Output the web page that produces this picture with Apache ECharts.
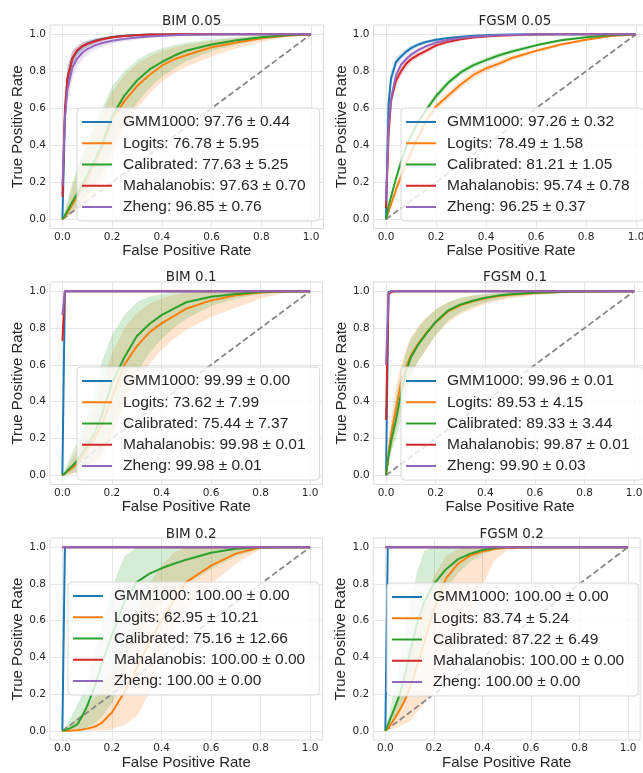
<!DOCTYPE html>
<html>
<head>
<meta charset="utf-8">
<script src="https://cdn.jsdelivr.net/npm/echarts@6/dist/echarts.min.js"></script>
<style>
html, body { margin: 0; padding: 0; background: #fff; }
#main { width: 643px; height: 773px; }
</style>
</head>
<body>
<div id="main"></div>
<script>
// common fpr grid for the averaged curves
var fpr = [0, 0.01, 0.02, 0.04, 0.06, 0.08, 0.1, 0.13, 0.16, 0.2, 0.25, 0.3, 0.35, 0.4, 0.45, 0.5, 0.6, 0.7, 0.8, 0.9, 1];
var ticks = [0, 0.2, 0.4, 0.6, 0.8, 1.0];
var methods = ['GMM1000', 'Logits', 'Calibrated', 'Mahalanobis', 'Zheng'];
var diagonalX = [0, 1];
var diagonalY = [0, 1];

// BIM 0.05
var bim005Scores = ['97.76 ± 0.44', '76.78 ± 5.95', '77.63 ± 5.25', '97.63 ± 0.70', '96.85 ± 0.76'];
var bim005Gmm = [0, 0.55, 0.76, 0.87, 0.91, 0.935, 0.95, 0.965, 0.975, 0.985, 0.992, 0.996, 0.998, 0.999, 1, 1, 1, 1, 1, 1, 1];
var bim005GmmLo = [0, 0.45, 0.68, 0.82, 0.88, 0.91, 0.93, 0.95, 0.963, 0.976, 0.986, 0.992, 0.996, 0.998, 0.999, 1, 1, 1, 1, 1, 1];
var bim005GmmHi = [0, 0.65, 0.83, 0.91, 0.935, 0.955, 0.967, 0.978, 0.985, 0.992, 0.996, 0.999, 1, 1, 1, 1, 1, 1, 1, 1, 1];
var bim005Log = [0, 0.015, 0.035, 0.08, 0.125, 0.17, 0.22, 0.3, 0.39, 0.54, 0.64, 0.72, 0.78, 0.83, 0.865, 0.888, 0.93, 0.955, 0.978, 0.992, 1];
var bim005LogLo = [0, 0.003, 0.01, 0.03, 0.05, 0.07, 0.09, 0.13, 0.2, 0.33, 0.48, 0.6, 0.68, 0.745, 0.79, 0.825, 0.88, 0.925, 0.958, 0.985, 1];
var bim005LogHi = [0, 0.04, 0.08, 0.17, 0.25, 0.32, 0.39, 0.49, 0.57, 0.69, 0.78, 0.84, 0.88, 0.91, 0.93, 0.945, 0.965, 0.98, 0.99, 0.997, 1];
var bim005Cal = [0, 0.02, 0.045, 0.095, 0.14, 0.19, 0.24, 0.32, 0.41, 0.56, 0.67, 0.75, 0.81, 0.85, 0.885, 0.912, 0.945, 0.968, 0.984, 0.994, 1];
var bim005CalLo = [0, 0.005, 0.015, 0.04, 0.07, 0.1, 0.13, 0.18, 0.25, 0.38, 0.52, 0.63, 0.71, 0.77, 0.815, 0.855, 0.91, 0.945, 0.972, 0.99, 1];
var bim005CalHi = [0, 0.05, 0.1, 0.2, 0.28, 0.35, 0.42, 0.52, 0.6, 0.72, 0.8, 0.86, 0.9, 0.925, 0.942, 0.955, 0.972, 0.985, 0.993, 0.998, 1];
var bim005Mah = [0.12, 0.6, 0.76, 0.87, 0.915, 0.935, 0.948, 0.962, 0.973, 0.984, 0.991, 0.995, 0.998, 0.999, 1, 1, 1, 1, 1, 1, 1];
var bim005MahLo = [0.08, 0.5, 0.7, 0.83, 0.89, 0.915, 0.932, 0.95, 0.963, 0.976, 0.986, 0.992, 0.996, 0.998, 0.999, 1, 1, 1, 1, 1, 1];
var bim005MahHi = [0.16, 0.68, 0.82, 0.91, 0.94, 0.955, 0.964, 0.974, 0.982, 0.99, 0.995, 0.998, 0.999, 1, 1, 1, 1, 1, 1, 1, 1];
var bim005Zhe = [0.18, 0.55, 0.7, 0.82, 0.87, 0.9, 0.92, 0.94, 0.953, 0.965, 0.975, 0.982, 0.988, 0.992, 0.995, 0.997, 0.999, 1, 1, 1, 1];
var bim005ZheLo = [0.14, 0.45, 0.62, 0.76, 0.83, 0.865, 0.89, 0.915, 0.932, 0.948, 0.962, 0.972, 0.98, 0.986, 0.99, 0.993, 0.997, 0.999, 1, 1, 1];
var bim005ZheHi = [0.22, 0.64, 0.78, 0.87, 0.905, 0.93, 0.945, 0.96, 0.97, 0.98, 0.987, 0.991, 0.995, 0.997, 0.999, 1, 1, 1, 1, 1, 1];

// FGSM 0.05
var fgsm005Scores = ['97.26 ± 0.32', '78.49 ± 1.58', '81.21 ± 1.05', '95.74 ± 0.78', '96.25 ± 0.37'];
var fgsm005Gmm = [0, 0.62, 0.76, 0.85, 0.88, 0.905, 0.925, 0.945, 0.958, 0.97, 0.98, 0.987, 0.992, 0.995, 0.997, 0.998, 1, 1, 1, 1, 1];
var fgsm005GmmLo = [0, 0.56, 0.72, 0.825, 0.86, 0.888, 0.91, 0.933, 0.948, 0.962, 0.974, 0.983, 0.989, 0.993, 0.996, 0.997, 0.999, 1, 1, 1, 1];
var fgsm005GmmHi = [0, 0.68, 0.8, 0.875, 0.9, 0.922, 0.94, 0.957, 0.968, 0.978, 0.986, 0.991, 0.995, 0.997, 0.998, 0.999, 1, 1, 1, 1, 1];
var fgsm005Log = [0, 0.04, 0.08, 0.16, 0.23, 0.3, 0.36, 0.45, 0.53, 0.61, 0.67, 0.73, 0.78, 0.815, 0.84, 0.87, 0.91, 0.945, 0.97, 0.99, 1];
var fgsm005LogLo = [0, 0.03, 0.065, 0.14, 0.21, 0.28, 0.34, 0.43, 0.51, 0.59, 0.65, 0.71, 0.76, 0.797, 0.824, 0.855, 0.898, 0.936, 0.964, 0.987, 1];
var fgsm005LogHi = [0, 0.05, 0.095, 0.18, 0.25, 0.32, 0.38, 0.47, 0.55, 0.63, 0.69, 0.75, 0.8, 0.833, 0.856, 0.885, 0.922, 0.954, 0.976, 0.993, 1];
var fgsm005Cal = [0, 0.07, 0.12, 0.22, 0.31, 0.39, 0.45, 0.53, 0.59, 0.665, 0.74, 0.795, 0.833, 0.86, 0.885, 0.905, 0.94, 0.967, 0.984, 0.994, 1];
var fgsm005CalLo = [0, 0.06, 0.105, 0.2, 0.29, 0.37, 0.43, 0.51, 0.57, 0.645, 0.722, 0.778, 0.818, 0.846, 0.872, 0.893, 0.931, 0.96, 0.979, 0.991, 1];
var fgsm005CalHi = [0, 0.08, 0.135, 0.24, 0.33, 0.41, 0.47, 0.55, 0.61, 0.685, 0.758, 0.812, 0.848, 0.874, 0.898, 0.917, 0.949, 0.974, 0.989, 0.997, 1];
var fgsm005Mah = [0.06, 0.45, 0.64, 0.75, 0.8, 0.84, 0.865, 0.89, 0.91, 0.94, 0.96, 0.973, 0.982, 0.988, 0.992, 0.995, 0.998, 1, 1, 1, 1];
var fgsm005MahLo = [0.04, 0.4, 0.6, 0.72, 0.775, 0.818, 0.846, 0.874, 0.896, 0.928, 0.951, 0.966, 0.977, 0.984, 0.989, 0.993, 0.997, 0.999, 1, 1, 1];
var fgsm005MahHi = [0.08, 0.5, 0.68, 0.78, 0.825, 0.862, 0.884, 0.906, 0.924, 0.952, 0.969, 0.98, 0.987, 0.992, 0.995, 0.997, 0.999, 1, 1, 1, 1];
var fgsm005Zhe = [0.1, 0.5, 0.65, 0.78, 0.835, 0.865, 0.89, 0.915, 0.935, 0.955, 0.97, 0.98, 0.986, 0.99, 0.994, 0.996, 0.999, 1, 1, 1, 1];
var fgsm005ZheLo = [0.08, 0.47, 0.63, 0.765, 0.822, 0.853, 0.879, 0.905, 0.926, 0.947, 0.964, 0.975, 0.982, 0.987, 0.992, 0.995, 0.998, 1, 1, 1, 1];
var fgsm005ZheHi = [0.12, 0.53, 0.67, 0.795, 0.848, 0.877, 0.901, 0.925, 0.944, 0.963, 0.976, 0.985, 0.99, 0.993, 0.996, 0.997, 1, 1, 1, 1, 1];

// BIM 0.1
var bim01Scores = ['99.99 ± 0.00', '73.62 ± 7.99', '75.44 ± 7.37', '99.98 ± 0.01', '99.98 ± 0.01'];
var bim01StepFpr = [0, 0.0101, 1];
var bim01Gmm = [0, 1, 1];
var bim01Mah = [0.73, 1, 1];
var bim01Zhe = [0.87, 1, 1];
var bim01Log = [0, 0.008, 0.02, 0.04, 0.065, 0.1, 0.14, 0.2, 0.28, 0.42, 0.6, 0.7, 0.775, 0.825, 0.865, 0.905, 0.95, 0.978, 0.993, 0.999, 1];
var bim01LogLo = [0, 0, 0.003, 0.008, 0.015, 0.025, 0.04, 0.06, 0.1, 0.2, 0.38, 0.5, 0.6, 0.68, 0.74, 0.79, 0.86, 0.91, 0.96, 0.99, 1];
var bim01LogHi = [0, 0.02, 0.045, 0.09, 0.14, 0.2, 0.27, 0.38, 0.5, 0.66, 0.8, 0.88, 0.93, 0.96, 0.98, 0.99, 0.997, 1, 1, 1, 1];
var bim01Cal = [0, 0.01, 0.025, 0.05, 0.08, 0.12, 0.16, 0.23, 0.33, 0.5, 0.64, 0.755, 0.82, 0.87, 0.905, 0.94, 0.97, 0.985, 0.995, 0.999, 1];
var bim01CalLo = [0, 0, 0.005, 0.01, 0.02, 0.03, 0.05, 0.08, 0.12, 0.22, 0.4, 0.56, 0.66, 0.74, 0.8, 0.85, 0.92, 0.96, 0.985, 0.998, 1];
var bim01CalHi = [0, 0.03, 0.06, 0.12, 0.18, 0.25, 0.33, 0.46, 0.62, 0.76, 0.87, 0.94, 0.97, 0.985, 0.993, 0.997, 1, 1, 1, 1, 1];

// FGSM 0.1
var fgsm01Scores = ['99.96 ± 0.01', '89.53 ± 4.15', '89.33 ± 3.44', '99.87 ± 0.01', '99.90 ± 0.03'];
var fgsm01StepFpr = [0, 0.01, 0.02, 0.04, 1];
var fgsm01Gmm = [0, 0.995, 1, 1, 1];
var fgsm01Mah = [0.3, 0.98, 0.995, 1, 1];
var fgsm01Zhe = [0.6, 0.99, 1, 1, 1];
var fgsm01Log = [0, 0.12, 0.22, 0.36, 0.5, 0.585, 0.65, 0.715, 0.77, 0.83, 0.89, 0.923, 0.945, 0.962, 0.973, 0.981, 0.99, 0.995, 0.998, 1, 1];
var fgsm01LogLo = [0, 0.06, 0.13, 0.24, 0.36, 0.46, 0.54, 0.62, 0.68, 0.76, 0.83, 0.875, 0.905, 0.93, 0.948, 0.96, 0.978, 0.988, 0.995, 0.999, 1];
var fgsm01LogHi = [0, 0.18, 0.3, 0.48, 0.6, 0.68, 0.75, 0.81, 0.855, 0.9, 0.94, 0.962, 0.975, 0.984, 0.989, 0.992, 0.996, 0.998, 1, 1, 1];
var fgsm01Cal = [0, 0.1, 0.18, 0.3, 0.44, 0.56, 0.64, 0.71, 0.765, 0.833, 0.895, 0.928, 0.948, 0.965, 0.976, 0.983, 0.991, 0.996, 0.998, 1, 1];
var fgsm01CalLo = [0, 0.06, 0.12, 0.2, 0.3, 0.44, 0.54, 0.62, 0.68, 0.76, 0.84, 0.885, 0.915, 0.94, 0.955, 0.968, 0.982, 0.99, 0.996, 0.999, 1];
var fgsm01CalHi = [0, 0.14, 0.25, 0.42, 0.56, 0.67, 0.74, 0.8, 0.85, 0.9, 0.94, 0.965, 0.978, 0.986, 0.99, 0.993, 0.997, 0.999, 1, 1, 1];

// BIM 0.2
var bim02Scores = ['100.00 ± 0.00', '62.95 ± 10.21', '75.16 ± 12.66', '100.00 ± 0.00', '100.00 ± 0.00'];
var bim02StepFpr = [0, 0.0101, 1];
var bim02Gmm = [0, 1, 1];
var bim02Mah = [1, 1, 1];
var bim02Zhe = [1, 1, 1];
var bim02Log = [0, 0, 0, 0.002, 0.003, 0.007, 0.012, 0.022, 0.045, 0.1, 0.21, 0.34, 0.48, 0.6, 0.71, 0.81, 0.9, 0.965, 1, 1, 1];
var bim02LogLo = [0, 0, 0, 0, 0, 0, 0, 0, 0, 0.01, 0.03, 0.08, 0.2, 0.4, 0.55, 0.66, 0.8, 0.91, 0.99, 1, 1];
var bim02LogHi = [0, 0.01, 0.02, 0.04, 0.07, 0.1, 0.13, 0.18, 0.24, 0.33, 0.48, 0.66, 0.8, 0.9, 0.97, 1, 1, 1, 1, 1, 1];
var bim02Cal = [0, 0.003, 0.008, 0.02, 0.035, 0.08, 0.135, 0.24, 0.37, 0.52, 0.7, 0.81, 0.855, 0.885, 0.91, 0.932, 0.97, 0.992, 1, 1, 1];
var bim02CalLo = [0, 0, 0, 0, 0.005, 0.01, 0.02, 0.04, 0.08, 0.15, 0.3, 0.5, 0.62, 0.7, 0.76, 0.8, 0.88, 0.95, 0.99, 1, 1];
var bim02CalHi = [0, 0.02, 0.04, 0.09, 0.14, 0.2, 0.27, 0.42, 0.58, 0.78, 0.95, 1, 1, 1, 1, 1, 1, 1, 1, 1, 1];

// FGSM 0.2
var fgsm02Scores = ['100.00 ± 0.00', '83.74 ± 5.24', '87.22 ± 6.49', '100.00 ± 0.00', '100.00 ± 0.00'];
var fgsm02StepFpr = [0, 0.0101, 1];
var fgsm02Gmm = [0, 1, 1];
var fgsm02Mah = [1, 1, 1];
var fgsm02Zhe = [1, 1, 1];
var fgsm02Log = [0, 0.015, 0.03, 0.07, 0.115, 0.165, 0.23, 0.35, 0.48, 0.66, 0.83, 0.91, 0.955, 0.977, 0.99, 0.997, 1, 1, 1, 1, 1];
var fgsm02LogLo = [0, 0, 0.005, 0.015, 0.025, 0.04, 0.05, 0.1, 0.15, 0.22, 0.33, 0.47, 0.63, 0.79, 0.93, 0.98, 1, 1, 1, 1, 1];
var fgsm02LogHi = [0, 0.03, 0.06, 0.13, 0.2, 0.29, 0.4, 0.56, 0.7, 0.84, 0.95, 0.99, 1, 1, 1, 1, 1, 1, 1, 1, 1];
var fgsm02Cal = [0, 0.03, 0.065, 0.13, 0.2, 0.3, 0.42, 0.58, 0.7, 0.8, 0.88, 0.935, 0.965, 0.985, 0.995, 0.999, 1, 1, 1, 1, 1];
var fgsm02CalLo = [0, 0.01, 0.03, 0.06, 0.1, 0.16, 0.24, 0.38, 0.5, 0.64, 0.77, 0.86, 0.92, 0.96, 0.985, 0.995, 1, 1, 1, 1, 1];
var fgsm02CalHi = [0, 0.06, 0.12, 0.25, 0.38, 0.52, 0.68, 0.86, 0.98, 1, 1, 1, 1, 1, 1, 1, 1, 1, 1, 1, 1];

var colors = ['#1f77b4', '#ff7f0e', '#2ca02c', '#d62728', '#9467bd'];
var textColor = '#262626';

// one entry per subplot: curves in method order
var panels = [
    { title: 'BIM 0.05', scores: bim005Scores, curves: [
        { x: fpr, y: bim005Gmm, lo: bim005GmmLo, hi: bim005GmmHi },
        { x: fpr, y: bim005Log, lo: bim005LogLo, hi: bim005LogHi },
        { x: fpr, y: bim005Cal, lo: bim005CalLo, hi: bim005CalHi },
        { x: fpr, y: bim005Mah, lo: bim005MahLo, hi: bim005MahHi },
        { x: fpr, y: bim005Zhe, lo: bim005ZheLo, hi: bim005ZheHi }] },
    { title: 'FGSM 0.05', scores: fgsm005Scores, curves: [
        { x: fpr, y: fgsm005Gmm, lo: fgsm005GmmLo, hi: fgsm005GmmHi },
        { x: fpr, y: fgsm005Log, lo: fgsm005LogLo, hi: fgsm005LogHi },
        { x: fpr, y: fgsm005Cal, lo: fgsm005CalLo, hi: fgsm005CalHi },
        { x: fpr, y: fgsm005Mah, lo: fgsm005MahLo, hi: fgsm005MahHi },
        { x: fpr, y: fgsm005Zhe, lo: fgsm005ZheLo, hi: fgsm005ZheHi }] },
    { title: 'BIM 0.1', scores: bim01Scores, curves: [
        { x: bim01StepFpr, y: bim01Gmm },
        { x: fpr, y: bim01Log, lo: bim01LogLo, hi: bim01LogHi },
        { x: fpr, y: bim01Cal, lo: bim01CalLo, hi: bim01CalHi },
        { x: bim01StepFpr, y: bim01Mah },
        { x: bim01StepFpr, y: bim01Zhe }] },
    { title: 'FGSM 0.1', scores: fgsm01Scores, curves: [
        { x: fgsm01StepFpr, y: fgsm01Gmm },
        { x: fpr, y: fgsm01Log, lo: fgsm01LogLo, hi: fgsm01LogHi },
        { x: fpr, y: fgsm01Cal, lo: fgsm01CalLo, hi: fgsm01CalHi },
        { x: fgsm01StepFpr, y: fgsm01Mah },
        { x: fgsm01StepFpr, y: fgsm01Zhe }] },
    { title: 'BIM 0.2', scores: bim02Scores, curves: [
        { x: bim02StepFpr, y: bim02Gmm },
        { x: fpr, y: bim02Log, lo: bim02LogLo, hi: bim02LogHi },
        { x: fpr, y: bim02Cal, lo: bim02CalLo, hi: bim02CalHi },
        { x: bim02StepFpr, y: bim02Mah },
        { x: bim02StepFpr, y: bim02Zhe }] },
    { title: 'FGSM 0.2', scores: fgsm02Scores, curves: [
        { x: fgsm02StepFpr, y: fgsm02Gmm },
        { x: fpr, y: fgsm02Log, lo: fgsm02LogLo, hi: fgsm02LogHi },
        { x: fpr, y: fgsm02Cal, lo: fgsm02CalLo, hi: fgsm02CalHi },
        { x: fgsm02StepFpr, y: fgsm02Mah },
        { x: fgsm02StepFpr, y: fgsm02Zhe }] }
];

// pixel layout of the subplots: grid box, title anchor, legend corner
var layout = [
    { grid: [50, 25, 273.5, 203.5], title: [186.7, 9], legend: [77, 108] },
    { grid: [373.5, 25, 275, 203.5], title: [510, 9], legend: [401, 108] },
    { grid: [50, 282, 272.5, 202.4], title: [186.2, 265], legend: [77, 367] },
    { grid: [373.6, 282, 273, 202.4], title: [510, 265], legend: [401, 367] },
    { grid: [50, 538, 272.5, 202], title: [186.2, 522], legend: [68, 582] },
    { grid: [373.2, 538, 267, 202], title: [506.7, 522], legend: [387, 583] }
];

function pairs(xs, ys) {
    return xs.map(function (x, k) { return [x, ys[k]]; });
}

function fade(hex, a) {
    var n = parseInt(hex.slice(1), 16);
    return 'rgba(' + (n >> 16) + ',' + ((n >> 8) & 255) + ',' + (n & 255) + ',' + a + ')';
}

var grids = [], xAxes = [], yAxes = [], titles = [], legends = [], series = [];
var labelOf = {};

panels.forEach(function (p, i) {
    var L = layout[i];
    grids.push({
        left: L.grid[0], top: L.grid[1], width: L.grid[2], height: L.grid[3],
        show: true, borderColor: '#dcdcdc', borderWidth: 1, backgroundColor: '#fff',
        outerBoundsMode: 'none', containLabel: false
    });
    xAxes.push({
        type: 'value', gridIndex: i, min: -0.05, max: 1.05,
        name: 'False Positive Rate', nameLocation: 'middle', nameGap: 12,
        nameTextStyle: { fontFamily: 'Liberation Sans', fontSize: 15, color: textColor },
        axisLine: { show: false },
        axisTick: { show: false, customValues: ticks },
        axisLabel: { customValues: ticks, margin: 3, fontFamily: 'DejaVu Sans', fontSize: 10.5, color: textColor,
            formatter: function (v) { return v.toFixed(1); } },
        splitLine: { show: true, lineStyle: { color: '#e6e6e6', width: 1 } }
    });
    yAxes.push({
        type: 'value', gridIndex: i, min: -0.05, max: 1.05,
        name: 'True Positive Rate', nameLocation: 'middle', nameGap: 22,
        nameTextStyle: { fontFamily: 'Liberation Sans', fontSize: 15, color: textColor },
        axisLine: { show: false },
        axisTick: { show: false, customValues: ticks },
        axisLabel: { customValues: ticks, margin: 4, fontFamily: 'DejaVu Sans', fontSize: 10.5, color: textColor,
            formatter: function (v) { return v.toFixed(1); } },
        splitLine: { show: true, lineStyle: { color: '#e6e6e6', width: 1 } }
    });
    titles.push({
        text: p.title, left: L.title[0], top: L.title[1], textAlign: 'center',
        textStyle: { fontFamily: 'DejaVu Sans', fontSize: 13.5, fontWeight: 'normal', color: textColor }
    });

    var names = [];
    p.curves.forEach(function (c, m) {
        var name = p.title + '|' + methods[m];
        names.push(name);
        labelOf[name] = methods[m] + ': ' + p.scores[m];
        if (c.lo) {
            series.push({
                type: 'custom', xAxisIndex: i, yAxisIndex: i, z: 1, silent: true,
                data: [[0.5, 0.5]],
                renderItem: (function (c, col) {
                    return function (params, api) {
                        var pts = [];
                        for (var k = 0; k < c.x.length; k++) pts.push(api.coord([c.x[k], c.hi[k]]));
                        for (var k2 = c.x.length - 1; k2 >= 0; k2--) pts.push(api.coord([c.x[k2], c.lo[k2]]));
                        return { type: 'polygon', shape: { points: pts }, style: { fill: fade(col, 0.2) } };
                    };
                })(c, colors[m])
            });
        }
    });

    series.push({
        type: 'line', xAxisIndex: i, yAxisIndex: i, z: 2, silent: true,
        data: pairs(diagonalX, diagonalY), symbol: 'none',
        lineStyle: { color: '#888888', width: 1.8, type: [6, 3] }
    });

    p.curves.forEach(function (c, m) {
        series.push({
            name: names[m], type: 'line', xAxisIndex: i, yAxisIndex: i, z: 3,
            data: pairs(c.x, c.y), symbol: 'none', showSymbol: false,
            lineStyle: { color: colors[m], width: 2 }, itemStyle: { color: colors[m] }
        });
    });

    legends.push({
        data: names, orient: 'vertical', left: L.legend[0], top: L.legend[1],
        icon: 'rect', itemWidth: 30, itemHeight: 2, itemGap: 3.25,
        padding: [5, 14, 5, 5], selectedMode: false, z: 10,
        backgroundColor: 'rgba(255,255,255,0.8)', borderColor: '#d9d9d9', borderWidth: 1, borderRadius: 4,
        textStyle: { fontFamily: 'Liberation Sans', fontSize: 15.5, lineHeight: 18, color: textColor, padding: [0, 0, 0, 6] },
        formatter: function (n) { return labelOf[n]; }
    });
});

var myChart = echarts.init(document.getElementById('main'));
myChart.setOption({
    animation: false,
    backgroundColor: '#fff',
    title: titles,
    legend: legends,
    grid: grids,
    xAxis: xAxes,
    yAxis: yAxes,
    series: series
});
</script>
</body>
</html>
